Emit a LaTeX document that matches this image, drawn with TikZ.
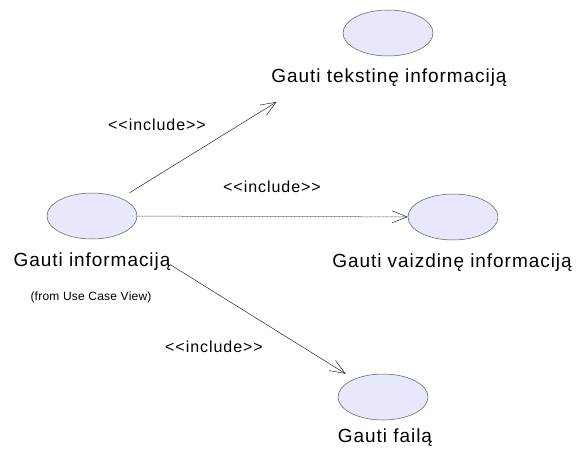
\documentclass[tikz,border=0pt]{standalone}
\usepackage{fontspec}
\setmainfont{Liberation Sans}
\newfontfamily\ucfont[LetterSpace=5]{Liberation Sans}
\newfontfamily\stereofont[LetterSpace=6]{Liberation Sans}
\newfontfamily\fromfont[LetterSpace=2]{Liberation Sans}
\usepackage{tikz}
\usetikzlibrary{arrows.meta, shapes.geometric, positioning}
\definecolor{ucfill}{RGB}{232,232,252}
\definecolor{ucline}{RGB}{90,90,90}

\begin{document}
\begin{tikzpicture}[x=1pt, y=-1pt,
			usecase/.style={shape=ellipse,
				draw=ucline,
				fill=ucfill,
				line width=0.5pt,
				minimum width=90pt,
				minimum height=46pt,
				inner sep=0},
			uclabel/.style={font=\ucfont\fontsize{19}{21}\selectfont, inner sep=0},
			stereo/.style={font=\stereofont\fontsize{16}{18}\selectfont, inner sep=0},
			incl/.style={draw=black!85, line width=0.5pt,
				-{Straight Barb[length=15pt, width=12pt]}}]
			
			\useasboundingbox (0,0) rectangle (577,452);
			
			\node[usecase] at (92, 216) (info){};
			\node[usecase] at (388, 33) (tekst){};
			\node[usecase] at (453, 217) (vaizd){};
			\node[usecase] at (383, 397) (failas){};
			
			\node[uclabel] at (92, 262) (infoL){Gauti informaciją};
			\node[font=\fromfont\fontsize{12}{14}\selectfont, inner sep=0] at (91, 297) (infoFrom){(from Use Case View)};
			\node[uclabel] at (389, 78) (tekstL){Gauti tekstinę informaciją};
			\node[uclabel] at (452, 263) (vaizdL){Gauti vaizdinę informaciją};
			\node[uclabel] at (385, 438) (failasL){Gauti failą};
			
			\node[stereo] at (157, 125) (inclA){<<include>>};
			\node[stereo] at (272, 187) (inclB){<<include>>};
			\node[stereo] at (214, 347) (inclC){<<include>>};
			
			\draw[incl, shorten <=10pt, shorten >=97pt] (info) -- (tekst);
			\draw[incl, dash pattern=on 1pt off 0.6pt] (info) -- (vaizd);
			\draw[incl, shorten <=58pt, shorten >=10pt] (info) -- (failas);
		\end{tikzpicture}
\end{document}
